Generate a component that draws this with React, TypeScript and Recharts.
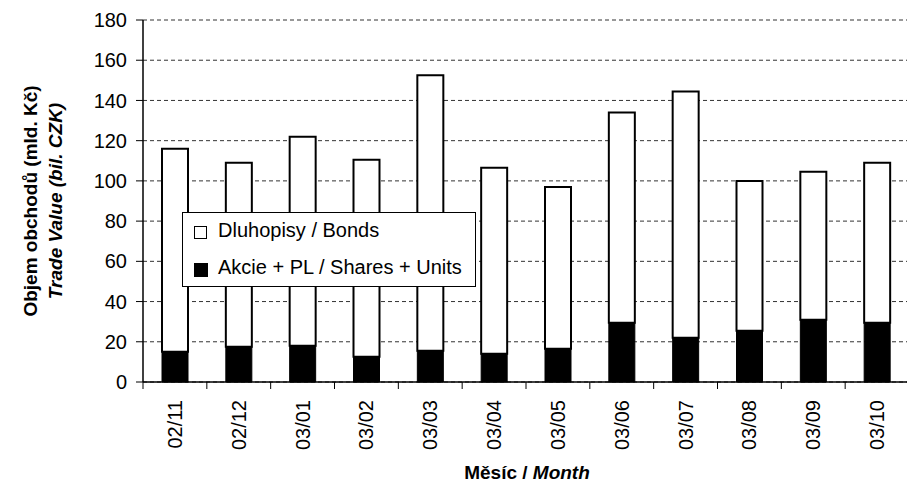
import { BarChart, Bar, XAxis, YAxis, CartesianGrid } from 'recharts';

const months = ['02/11', '02/12', '03/01', '03/02', '03/03', '03/04', '03/05', '03/06', '03/07', '03/08', '03/09', '03/10'];
const totals = [116, 109, 122, 110.5, 152.5, 106.5, 97, 134, 144.5, 100, 104.5, 109];
const shares = [15, 17.5, 18, 12.5, 15.5, 14, 16.5, 29.5, 22, 25.5, 31, 29.5];
const yTicks = [0, 20, 40, 60, 80, 100, 120, 140, 160, 180];

const data = months.map((month, i) => ({
  month,
  shares: shares[i],
  bonds: +(totals[i] - shares[i]).toFixed(1),
}));

const FONT = '"Liberation Sans", Arial, sans-serif';

interface TickProps {
  x?: number;
  y?: number;
  index?: number;
  payload?: { value: string; offset?: number };
}

function MonthTick({ x = 0, y = 0, index = 0, payload }: TickProps) {
  const half = payload?.offset ?? 31.9;
  const last = index === months.length - 1;
  return (
    <g>
      <line x1={x - half} x2={x - half} y1={y} y2={y + 7} stroke="#000" />
      {last && <line x1={x + half} x2={x + half} y1={y} y2={y + 7} stroke="#000" />}
      <text
        transform={`translate(${x}, ${y + 18}) rotate(-90)`}
        textAnchor="end"
        dominantBaseline="central"
        fontSize={20}
        fill="#000"
        fontFamily={FONT}
      >
        {payload?.value}
      </text>
    </g>
  );
}

export default function App() {
  return (
    <div
      style={{
        position: 'absolute',
        left: 0,
        top: 0,
        width: 907,
        height: 485,
        overflow: 'hidden',
        background: '#fff',
        fontFamily: FONT,
      }}
    >
      <BarChart
        width={909}
        height={485}
        data={data}
        margin={{ top: 20, right: 0, bottom: 0, left: 0 }}
      >
        <CartesianGrid vertical={false} stroke="#333" strokeDasharray="4 3" />
        <XAxis
          dataKey="month"
          height={103}
          axisLine={{ stroke: '#000', strokeWidth: 1.5 }}
          tickLine={false}
          tickSize={0}
          tickMargin={0}
          interval={0}
          tick={<MonthTick />}
        />
        <YAxis
          type="number"
          domain={[0, 180]}
          ticks={yTicks}
          width={143}
          axisLine={{ stroke: '#000', strokeWidth: 1.5 }}
          tickLine={{ stroke: '#000' }}
          tickSize={7}
          tickMargin={9}
          tick={{ fill: '#000', fontSize: 20, fontFamily: FONT }}
        />
        <Bar dataKey="shares" stackId="v" fill="#000" stroke="#000" strokeWidth={1} barSize={26} isAnimationActive={false} />
        <Bar dataKey="bonds" stackId="v" fill="#fff" stroke="#000" strokeWidth={2} barSize={26} isAnimationActive={false} />
      </BarChart>

      {/* Legend */}
      <div
        style={{
          position: 'absolute',
          left: 182,
          top: 212,
          width: 294,
          height: 75,
          border: '1px solid #000',
          background: '#fff',
          boxSizing: 'border-box',
          fontSize: 20,
          color: '#000',
        }}
      >
        <div style={{ position: 'absolute', left: 11, top: 13, width: 11, height: 11, border: '1.5px solid #000', background: '#fff' }} />
        <div style={{ position: 'absolute', left: 35, top: 6, whiteSpace: 'nowrap' }}>Dluhopisy / Bonds</div>
        <div style={{ position: 'absolute', left: 11, top: 50, width: 14, height: 14, background: '#000' }} />
        <div style={{ position: 'absolute', left: 35, top: 43, whiteSpace: 'nowrap' }}>Akcie + PL / Shares + Units</div>
      </div>

      {/* Axis titles */}
      <svg width={907} height={485} style={{ position: 'absolute', left: 0, top: 0, pointerEvents: 'none' }}>
        <text
          transform="translate(30, 201) rotate(-90)"
          textAnchor="middle"
          dominantBaseline="central"
          fontSize={19}
          fontWeight="bold"
          fontFamily={FONT}
        >
          Objem obchodů (mld. Kč)
        </text>
        <text
          transform="translate(55, 201) rotate(-90)"
          textAnchor="middle"
          dominantBaseline="central"
          fontSize={19}
          fontWeight="bold"
          fontStyle="italic"
          fontFamily={FONT}
        >
          Trade Value (bil. CZK)
        </text>
        <text x={527} y={479} textAnchor="middle" fontSize={19} fontWeight="bold" fontFamily={FONT}>
          Měsíc / <tspan fontStyle="italic">Month</tspan>
        </text>
      </svg>
    </div>
  );
}
